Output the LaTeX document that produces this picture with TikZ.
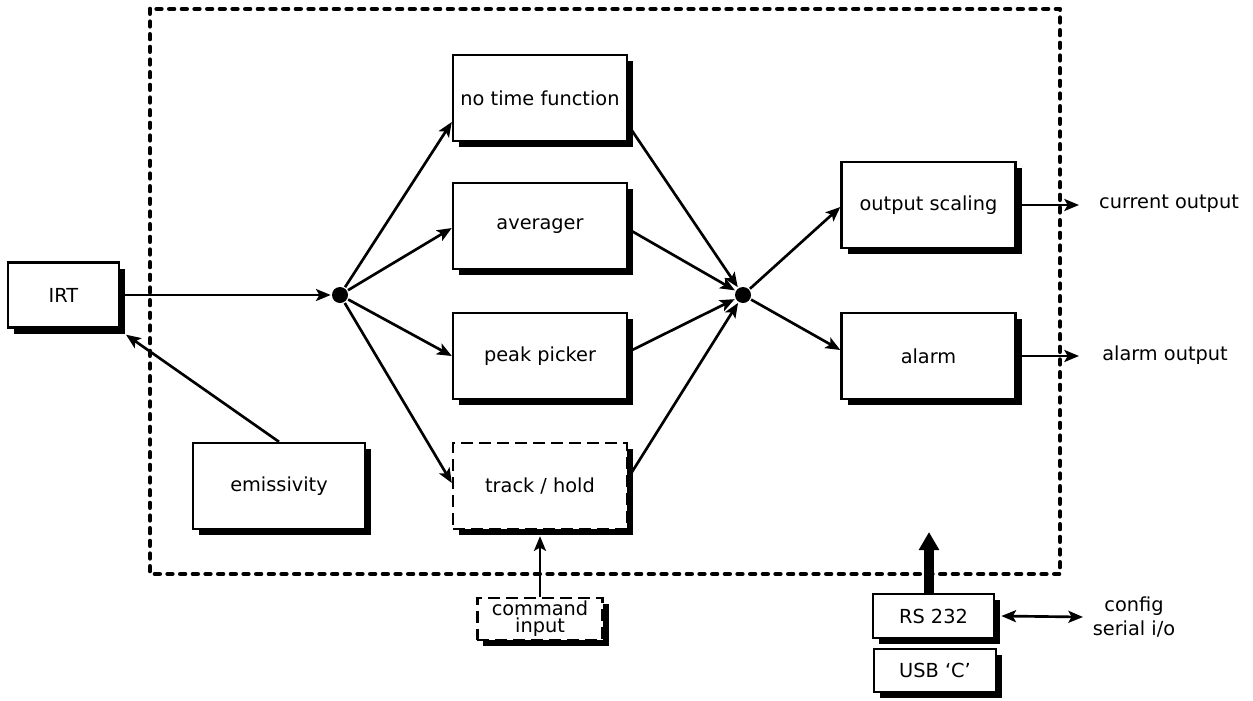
\documentclass[tikz,border=0pt]{standalone}
\usepackage{fontspec}
\setmainfont{DejaVu Sans}
\usetikzlibrary{arrows.meta,shadows,calc}

\tikzset{every picture/.style={line width=2pt}}
\tikzset{
  blk/.style={draw, fill=white, line width=1.8pt, inner sep=2pt, align=center,
    drop shadow={shadow xshift=4.5pt, shadow yshift=-4.5pt, fill=black, opacity=1}},
  dblk/.style={blk, dash pattern=on 9pt off 4.5pt},
  wbox/.style={minimum width=130.5pt, minimum height=64.5pt},
  jdot/.style={circle, fill=black, minimum size=12pt, inner sep=0pt},
  arr/.style={-{Stealth[length=11pt,width=9pt,inset=2.5pt]}},
  darr/.style={{Stealth[length=11pt,width=9pt,inset=2.5pt]}-{Stealth[length=11pt,width=9pt,inset=2.5pt]}},
  fatarr/.style={line width=7.5pt, -{Triangle[length=13.5pt,width=14.5pt]}},
  frame/.style={line width=3.5pt, dash pattern=on 3.5pt off 6pt, line cap=round, line join=round}
}

\begin{document}
\begin{tikzpicture}[x=0.75pt,y=0.75pt,yscale=-1,xscale=1,
  every node/.style={font=\fontsize{14.5}{17}\selectfont}]
\useasboundingbox (0,0) rectangle (1253,700);

%Shape: dotted frame
\draw[frame] (150,9) rectangle (1060,574);

% Blocks
\node[blk, minimum width=83pt, minimum height=48.75pt] (irt) at (63.5,295) {IRT};
\node[blk, wbox, minimum width=129pt] (em) at (279,486) {emissivity};
\node[blk, wbox] (ntf) at (540,98) {no time function};
\node[blk, wbox] (avg) at (540,226) {averager};
\node[blk, wbox] (pp) at (540,356) {peak picker};
\node[dblk, wbox] (th) at (540,486) {track / hold};
\node[blk, wbox] (os) at (928.5,205) {output scaling};
\node[blk, wbox] (alm) at (928.5,356) {alarm};
\node[dblk, minimum width=94pt, minimum height=31.5pt, inner sep=1pt,
  font=\fontsize{14.5}{12.75}\selectfont] (cmd) at (540,619) {command\\input};
\node[blk, minimum width=91pt, minimum height=33pt] (rs) at (933.5,616) {RS 232};
\node[blk, minimum width=91.5pt, minimum height=32pt] (usb) at (935,670.5) {USB ‘C’};

% Junctions
\node[jdot] (j1) at (340,295) {};
\node[jdot] (j2) at (743,295) {};

% Free ends
\coordinate (cur) at (1079,205);
\coordinate (alo) at (1079,356);
\coordinate (cfg) at (1083,617);
\coordinate (rsup) at (929,532);

% Text Node
\node (curl) at (1169,204) {current output};
% Text Node
\node (alol) at (1165,355) {alarm output};
% Text Node
\node[align=center, font=\fontsize{14.5}{18}\selectfont] (cfgl) at (1134,617) {config\\serial i/o};

% Connectors
\draw[arr] (irt.east) -- (j1);
\draw[arr] (j1) -- ($(ntf.west)+(0,24)$);
\draw[arr] (j1) -- ($(avg.west)+(0,2)$);
\draw[arr] (j1) -- (pp.west);
\draw[arr] (j1) -- ($(th.west)+(0,-3)$);
\draw[arr] ($(ntf.east)+(0,27)$) -- (j2);
\draw[arr] ($(avg.east)+(0,3)$) -- (j2);
\draw[arr] ($(pp.east)+(0,-4)$) -- (j2);
\draw[arr] ($(th.east)+(0,-8)$) -- (j2);
\draw[arr] (j2) -- ($(os.west)+(0,2)$);
\draw[arr] (j2) -- ($(alm.west)+(0,-6)$);
\draw[arr] (os.east) -- (cur);
\draw[arr] (alm.east) -- (alo);
\draw[arr] (em.north) -- ($(irt.south east)+(6,6)$);
\draw[arr] (cmd.north) -- ($(th.south)+(0,6)$);
\draw[fatarr] (rs.north -| rsup) -- (rsup);
\draw[darr] ($(rs.east)+(6,0)$) -- (cfg);

\end{tikzpicture}
\end{document}
